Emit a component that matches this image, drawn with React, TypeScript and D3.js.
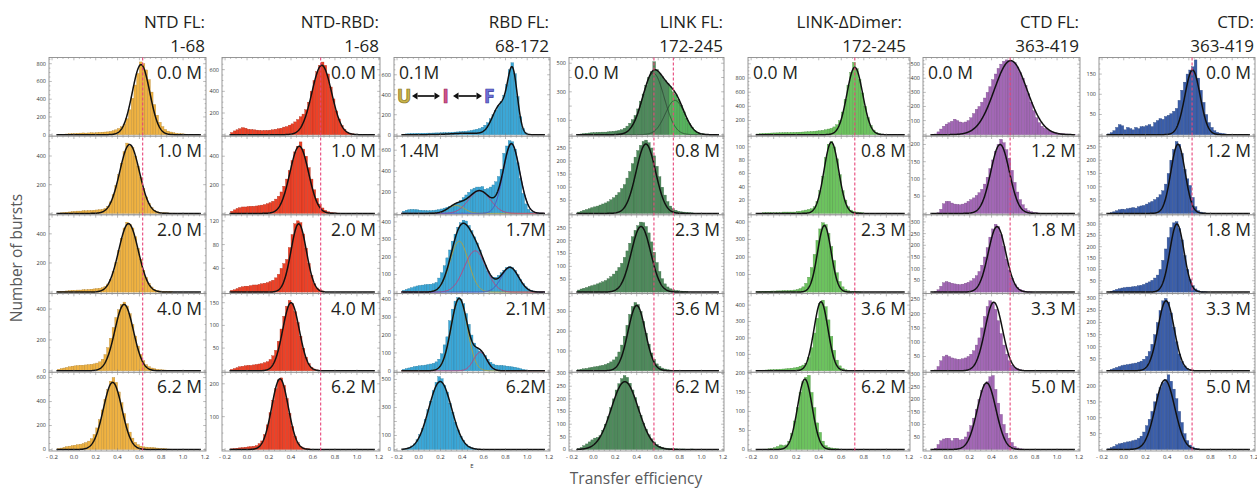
import React from 'react';
import * as d3 from 'd3';

// Histogram binning in transfer efficiency E
const BIN_START = -0.15;
const BIN_WIDTH = 0.025;

const panelTitles = ['NTD FL:', 'NTD-RBD:', 'RBD FL:', 'LINK FL:', 'LINK-\u0394Dimer:', 'CTD FL:', 'CTD:'];
const panelResidues = ['1-68', '1-68', '68-172', '172-245', '172-245', '363-419', '363-419'];
const barColors = ['#efb242', '#ec4127', '#3ba7d7', '#4f8a5c', '#6cc35e', '#a267b5', '#3b5ea9'];
const brightBarColor = '#55b35c';
const referenceE = [[0.63], [0.67], [], [0.56, 0.74], [0.72], [0.57], [0.63]];

const denaturantLabels = [
  ['0.0 M', '1.0 M', '2.0 M', '4.0 M', '6.2 M'],
  ['0.0 M', '1.0 M', '2.0 M', '4.0 M', '6.2 M'],
  ['0.1M', '1.4M', '1.7M', '2.1M', '6.2M'],
  ['0.0 M', '0.8 M', '2.3 M', '3.6 M', '6.2 M'],
  ['0.0 M', '0.8 M', '2.3 M', '3.6 M', '6.2 M'],
  ['0.0 M', '1.2 M', '1.8 M', '3.3 M', '5.0 M'],
  ['0.0 M', '1.2 M', '1.8 M', '3.3 M', '5.0 M'],
];
const labelOnLeft = [
  [0, 0, 0, 0, 0],
  [0, 0, 0, 0, 0],
  [1, 1, 0, 0, 0],
  [1, 0, 0, 0, 0],
  [1, 0, 0, 0, 0],
  [1, 0, 0, 0, 0],
  [0, 0, 0, 0, 0],
];

const yMaxes = [
  [870, 538, 530, 500, 644],
  [712, 540, 130, 170, 235],
  [773, 733, 440, 432, 551],
  [540, 295, 300, 390, 305],
  [1089, 116, 440, 470, 203],
  [547, 224, 330, 270, 308],
  [191, 290, 340, 320, 243],
];
const yTickValues = [
  [[0, 200, 400, 600, 800], [200, 400], [200, 400], [0, 200, 400], [0, 200, 400, 600]],
  [[200, 400, 600], [200, 400], [40, 80, 120], [50, 100, 150], [100, 200]],
  [[0, 200, 400, 600], [200, 400, 600], [0, 100, 200, 300, 400], [0, 100, 200, 300, 400], [0, 100, 300, 500]],
  [[100, 300, 500], [50, 100, 150, 200, 250], [50, 100, 150, 200, 250], [100, 200, 300], [0, 50, 100, 150, 200, 250, 300]],
  [[200, 400, 600, 800], [20, 40, 60, 80, 100], [100, 200, 300, 400], [100, 200, 300, 400], [0, 50, 100, 150, 200]],
  [[100, 200, 300, 400, 500], [50, 100, 150, 200], [50, 100, 150, 200, 250, 300], [50, 100, 150, 200, 250], [50, 100, 150, 200, 250, 300]],
  [[50, 100, 150], [50, 100, 150, 200, 250], [50, 100, 150, 200, 250, 300], [50, 100, 150, 200, 250, 300], [50, 100, 150, 200]],
];
const xTickValues = [-0.2, 0, 0.2, 0.4, 0.6, 0.8, 1.0, 1.2];

// Burst counts per bin, first bin starts at E = -0.15
const ntdFlCounts = [
  [3, 5, 6, 8, 10, 12, 14, 16, 18, 20, 18, 20, 22, 20, 24, 26, 28, 30, 32, 38, 45, 55, 70, 90, 120, 180, 280, 410, 560, 690, 820, 800, 730, 620, 480, 340, 220, 140, 90, 60, 40, 30, 22, 16, 12, 10, 8, 6, 5, 4, 3, 2],
  [2, 4, 6, 8, 10, 12, 14, 16, 16, 18, 18, 20, 20, 22, 24, 26, 28, 35, 50, 80, 130, 195, 270, 350, 430, 490, 470, 460, 400, 330, 250, 175, 115, 70, 40, 22, 12, 8, 5, 4, 3, 2, 2, 1],
  [3, 5, 6, 8, 10, 12, 12, 14, 14, 16, 16, 18, 20, 22, 24, 26, 30, 38, 55, 85, 140, 205, 285, 370, 440, 480, 465, 440, 380, 300, 225, 150, 100, 60, 35, 20, 12, 8, 5, 4, 3, 2],
  [10, 14, 18, 22, 26, 30, 32, 34, 36, 36, 38, 40, 42, 45, 50, 58, 75, 105, 150, 210, 280, 345, 395, 430, 445, 420, 370, 300, 225, 160, 105, 65, 40, 27, 18, 14, 10, 8, 6, 5, 4, 3, 2],
  [8, 12, 18, 24, 28, 32, 36, 40, 44, 50, 58, 70, 90, 125, 180, 250, 330, 420, 500, 570, 600, 560, 480, 390, 300, 215, 145, 95, 60, 40, 28, 22, 20, 18, 16, 14, 12, 10, 8, 6, 4, 3, 2],
];
const ntdRbdCounts = [
  [20, 35, 45, 55, 65, 60, 50, 48, 45, 42, 40, 38, 40, 40, 42, 45, 50, 55, 60, 70, 75, 88, 100, 118, 140, 165, 190, 230, 300, 400, 500, 580, 640, 670, 640, 560, 440, 330, 220, 145, 85, 48, 25, 14, 8, 5, 3, 2],
  [15, 25, 35, 40, 45, 45, 48, 50, 50, 52, 55, 58, 62, 68, 75, 85, 100, 120, 150, 190, 240, 300, 370, 430, 470, 500, 450, 400, 320, 240, 165, 105, 65, 38, 22, 12, 7, 4, 3, 2],
  [3, 4, 6, 8, 9, 10, 10, 11, 12, 12, 13, 14, 15, 16, 18, 20, 24, 30, 40, 48, 55, 75, 97, 115, 120, 117, 98, 74, 48, 28, 14, 7, 4, 2],
  [3, 5, 7, 9, 10, 11, 12, 12, 13, 14, 15, 16, 18, 20, 25, 33, 45, 65, 92, 120, 142, 155, 148, 130, 106, 76, 50, 30, 16, 8, 4, 2],
  [2, 3, 4, 5, 6, 7, 8, 9, 10, 12, 18, 26, 45, 75, 112, 150, 185, 212, 218, 195, 155, 110, 70, 40, 21, 10, 5, 3, 2],
];
const rbdFlCounts = [
  [5, 8, 10, 12, 12, 14, 14, 15, 15, 16, 16, 17, 18, 18, 19, 20, 20, 22, 24, 26, 28, 30, 32, 34, 38, 42, 48, 55, 62, 75, 95, 120, 160, 200, 245, 290, 335, 395, 500, 650, 720, 610, 380, 180, 60, 18, 5, 2],
  [20, 30, 35, 38, 36, 34, 30, 28, 26, 25, 26, 28, 32, 36, 42, 50, 58, 68, 78, 90, 105, 125, 150, 175, 200, 225, 240, 250, 250, 255, 230, 235, 250, 270, 300, 350, 420, 570, 640, 690, 680, 610, 480, 330, 190, 90, 38, 14, 6, 3],
  [10, 15, 20, 25, 30, 35, 38, 40, 42, 44, 45, 48, 55, 80, 110, 150, 195, 240, 290, 330, 370, 395, 410, 405, 380, 350, 315, 280, 240, 195, 155, 120, 95, 85, 85, 95, 110, 125, 140, 145, 140, 125, 100, 72, 48, 30, 18, 10, 6, 3],
  [8, 12, 16, 20, 24, 26, 28, 30, 32, 35, 38, 42, 50, 65, 95, 145, 190, 280, 345, 390, 410, 400, 375, 320, 260, 200, 155, 125, 110, 100, 85, 65, 48, 38, 32, 30, 30, 28, 26, 24, 22, 20, 16, 12, 8, 5, 3, 2],
  [3, 6, 14, 25, 40, 70, 105, 150, 215, 285, 345, 420, 480, 520, 505, 455, 410, 330, 265, 195, 140, 95, 62, 38, 22, 12, 6, 3],
];
const linkFlCounts = [
  [3, 5, 8, 10, 12, 14, 15, 16, 17, 18, 18, 20, 22, 24, 26, 30, 35, 45, 60, 80, 105, 135, 180, 235, 285, 345, 400, 440, 510, 455, 430, 405, 380, 360, 335, 300, 280, 245, 205, 160, 115, 80, 52, 30, 18, 10, 6, 4, 3, 2],
  [5, 8, 12, 15, 18, 22, 25, 28, 32, 36, 40, 45, 52, 60, 70, 80, 95, 110, 135, 160, 190, 215, 240, 260, 275, 280, 270, 250, 220, 180, 140, 100, 70, 45, 28, 18, 12, 8, 6, 5, 4, 3, 2],
  [8, 12, 15, 18, 22, 25, 28, 32, 36, 40, 45, 52, 60, 70, 82, 96, 112, 135, 160, 190, 215, 240, 258, 272, 270, 255, 230, 195, 155, 115, 80, 52, 32, 20, 13, 9, 6, 5, 4, 3, 2],
  [5, 8, 10, 12, 15, 18, 20, 22, 25, 28, 32, 38, 45, 55, 70, 95, 130, 175, 230, 285, 325, 345, 335, 300, 250, 190, 135, 90, 58, 35, 22, 14, 9, 6, 4, 3, 2],
  [3, 8, 15, 22, 30, 38, 45, 48, 55, 75, 100, 130, 165, 200, 235, 260, 280, 292, 285, 262, 235, 205, 170, 135, 105, 80, 58, 42, 30, 20, 13, 9, 6, 5, 4, 3, 3, 2, 2, 2, 1, 1, 2, 1],
];
const linkDimerCounts = [
  [10, 15, 18, 20, 22, 24, 25, 26, 27, 28, 30, 30, 32, 33, 35, 36, 38, 40, 42, 45, 48, 52, 56, 62, 70, 80, 90, 110, 140, 200, 320, 500, 700, 880, 1020, 930, 780, 590, 400, 240, 130, 65, 30, 14, 8, 5, 4, 3, 2, 2, 1],
  [0, 0, 1, 1, 1, 1, 1, 1, 1, 2, 2, 2, 2, 2, 3, 3, 4, 5, 6, 7, 10, 18, 34, 56, 84, 104, 108, 100, 82, 58, 34, 20, 10, 5, 3, 2, 1, 1],
  [2, 3, 4, 5, 5, 6, 6, 7, 7, 8, 8, 9, 10, 12, 15, 20, 30, 50, 85, 140, 215, 295, 360, 395, 385, 335, 260, 180, 110, 60, 30, 15, 8, 4, 3, 2, 1],
  [2, 3, 4, 5, 6, 7, 8, 9, 10, 11, 12, 14, 16, 18, 22, 28, 35, 45, 80, 140, 230, 320, 410, 430, 390, 310, 210, 125, 65, 30, 14, 6, 3, 2],
  [0, 0, 1, 1, 2, 3, 5, 8, 12, 10, 12, 22, 42, 75, 110, 150, 178, 190, 195, 150, 110, 70, 45, 22, 10, 6, 4, 3, 2, 1],
];
const ctdFlCounts = [
  [0, 5, 20, 40, 60, 75, 85, 95, 110, 100, 90, 85, 90, 100, 120, 150, 180, 200, 230, 260, 300, 340, 390, 430, 470, 500, 520, 530, 525, 520, 510, 480, 440, 400, 350, 290, 230, 170, 120, 85, 60, 45, 35, 25, 18, 14, 10, 8, 6, 5, 4, 3, 2],
  [0, 0, 2, 12, 28, 35, 35, 30, 27, 26, 25, 27, 30, 35, 40, 45, 52, 60, 70, 85, 105, 130, 155, 180, 200, 215, 205, 185, 160, 125, 90, 62, 40, 25, 14, 8, 5, 3, 2, 1],
  [0, 2, 10, 25, 40, 45, 42, 38, 35, 33, 32, 34, 38, 42, 48, 58, 70, 88, 115, 150, 190, 235, 270, 290, 280, 245, 195, 140, 95, 60, 35, 20, 12, 7, 4, 2, 1],
  [0, 3, 15, 35, 50, 55, 50, 45, 42, 40, 40, 42, 45, 50, 58, 70, 90, 115, 150, 190, 225, 245, 240, 215, 175, 130, 90, 58, 35, 20, 12, 7, 4, 2, 1],
  [0, 5, 20, 35, 42, 45, 45, 35, 45, 45, 38, 40, 50, 70, 95, 125, 160, 200, 235, 260, 270, 290, 295, 240, 185, 140, 100, 65, 45, 28, 12, 6, 3, 2, 1],
];
const ctdCounts = [
  [2, 5, 10, 18, 25, 22, 12, 18, 15, 12, 18, 15, 20, 20, 22, 25, 20, 30, 35, 40, 38, 45, 48, 52, 58, 65, 85, 110, 130, 150, 160, 168, 185, 140, 110, 80, 50, 30, 18, 10, 6, 4, 3, 2, 1],
  [0, 3, 6, 10, 14, 16, 15, 18, 20, 22, 20, 25, 28, 30, 35, 40, 45, 52, 60, 70, 85, 110, 150, 200, 240, 270, 260, 225, 165, 130, 105, 60, 25, 10, 5, 2, 1],
  [0, 4, 8, 12, 15, 18, 20, 22, 22, 24, 25, 28, 30, 34, 40, 45, 52, 62, 75, 100, 140, 190, 240, 285, 305, 310, 280, 230, 160, 100, 55, 28, 14, 7, 3, 2, 1],
  [2, 6, 10, 14, 18, 22, 24, 26, 28, 30, 32, 36, 40, 48, 60, 80, 110, 150, 200, 250, 290, 300, 285, 240, 180, 120, 70, 38, 20, 10, 5, 3, 2, 1],
  [2, 6, 10, 15, 18, 20, 22, 24, 25, 28, 30, 35, 42, 55, 75, 95, 120, 150, 175, 195, 210, 220, 235, 215, 190, 160, 120, 85, 50, 28, 14, 8, 4, 2, 1],
];

// Gaussian fit components [amplitude, mean E, sigma]
const ntdFlFits = [
  [[790, 0.615, 0.08]],
  [[480, 0.51, 0.09]],
  [[470, 0.5, 0.09]],
  [[430, 0.46, 0.085]],
  [[560, 0.355, 0.085]],
];
const ntdRbdFits = [
  [[640, 0.68, 0.09]],
  [[470, 0.475, 0.085]],
  [[115, 0.47, 0.07]],
  [[150, 0.4, 0.075]],
  [[215, 0.3, 0.075]],
];
// RBD FL: unfolded (U), intermediate (I), folded (F)
const rbdFlFits = [
  [[15, 0.45, 0.15], [290, 0.75, 0.07], [600, 0.865, 0.045]],
  [[75, 0.345, 0.075], [215, 0.56, 0.1], [660, 0.855, 0.075]],
  [[290, 0.373, 0.085], [235, 0.52, 0.1], [140, 0.842, 0.08]],
  [[405, 0.373, 0.075], [104, 0.566, 0.06]],
  [[485, 0.198, 0.105]],
];
const linkFlFits = [
  [[430, 0.555, 0.1], [240, 0.755, 0.09]],
  [[265, 0.485, 0.09]],
  [[255, 0.44, 0.09]],
  [[330, 0.4, 0.08]],
  [[268, 0.29, 0.125]],
];
const linkDimerFits = [
  [[950, 0.72, 0.07]],
  [[107, 0.512, 0.065]],
  [[380, 0.45, 0.06]],
  [[420, 0.42, 0.062]],
  [[185, 0.277, 0.065]],
];
const ctdFlFits = [
  [[525, 0.575, 0.15]],
  [[200, 0.478, 0.085]],
  [[280, 0.45, 0.08]],
  [[240, 0.42, 0.08]],
  [[266, 0.355, 0.085]],
];
const ctdFits = [
  [[160, 0.634, 0.07]],
  [[260, 0.5, 0.065]],
  [[300, 0.49, 0.065]],
  [[290, 0.39, 0.075]],
  [[219, 0.38, 0.09]],
];

const uifColors = ['#b6a23b', '#c3407d', '#4f55c3'];
const linkComponentColor = '#2b4632';

const histogramCounts = [ntdFlCounts, ntdRbdCounts, rbdFlCounts, linkFlCounts, linkDimerCounts, ctdFlCounts, ctdCounts];
const fitComponents = [ntdFlFits, ntdRbdFits, rbdFlFits, linkFlFits, linkDimerFits, ctdFlFits, ctdFits];

// Layout
const COL_LEFT = [49, 222, 394, 569, 748, 923, 1099];
const COL_RIGHT = [206, 380, 550, 724, 910, 1080, 1255];
const TOP = 57.5;
const ROW_H = 78.7;
const X_DOMAIN: [number, number] = [-0.228, 1.21];
const FONT = "'Open Sans', 'Noto Sans', sans-serif";

function gaussian([a, m, s]: number[], e: number) {
  return a * Math.exp(-((e - m) * (e - m)) / (2 * s * s));
}
function fitTotal(fits: number[][], e: number) {
  return fits.reduce((acc, f) => acc + gaussian(f, e), 0);
}

function componentColorsFor(col: number, row: number): string[] | null {
  if (col === 2 && row >= 1 && row <= 3) return uifColors;
  if (col === 3 && row === 0) return [linkComponentColor, linkComponentColor];
  return null;
}

function Panel({ col, row }: { col: number; row: number }) {
  const left = COL_LEFT[col];
  const right = COL_RIGHT[col];
  const top = TOP + row * ROW_H;
  const bottom = top + ROW_H;
  const x = d3.scaleLinear().domain(X_DOMAIN).range([left, right]);
  const y = d3.scaleLinear().domain([0, yMaxes[col][row]]).range([bottom - 1.5, top]);
  const counts = histogramCounts[col][row];
  const fits = fitComponents[col][row];
  const clipId = `clip-${col}-${row}`;
  const fill = barColors[col];
  const edge = d3.color(fill)!.darker(0.8).formatHex();
  const sample = d3.range(-0.16, 1.166, 0.003);
  const totalLine = d3
    .line<number>()
    .x((e) => x(e))
    .y((e) => y(fitTotal(fits, e)));
  const compColors = componentColorsFor(col, row);
  const ticks = yTickValues[col][row];
  const tickStep = ticks.length > 1 ? ticks[1] - ticks[0] : ticks[0];
  const minorStep = tickStep / 4;
  const minorY = d3.range(0, yMaxes[col][row], minorStep);
  const minorX = d3.range(-0.2, 1.2001, 0.05);
  const onLeft = labelOnLeft[col][row] === 1;

  return (
    <g>
      <defs>
        <clipPath id={clipId}>
          <rect x={left} y={top} width={right - left} height={ROW_H} />
        </clipPath>
      </defs>
      <rect x={left} y={top} width={right - left} height={ROW_H} fill="#fff" />
      <g clipPath={`url(#${clipId})`}>
        {counts.map((c, i) => {
          if (c <= 0) return null;
          const e0 = BIN_START + i * BIN_WIDTH;
          const x0 = x(e0);
          const x1 = x(e0 + BIN_WIDTH);
          const bright = col === 3 && row === 0 && e0 >= 0.7;
          return (
            <rect
              key={i}
              x={x0}
              y={y(c)}
              width={x1 - x0}
              height={y(0) - y(c)}
              fill={bright ? brightBarColor : fill}
              stroke={bright ? d3.color(brightBarColor)!.darker(0.8).formatHex() : edge}
              strokeWidth={0.35}
            />
          );
        })}
        {compColors &&
          fits.map((f, k) => (
            <path
              key={k}
              d={d3
                .line<number>()
                .x((e) => x(e))
                .y((e) => y(gaussian(f, e)))(sample) || ''}
              fill="none"
              stroke={compColors[k]}
              strokeWidth={col === 3 ? 0.8 : 1}
            />
          ))}
        <path d={totalLine(sample) || ''} fill="none" stroke="#111" strokeWidth={1.5} />
      </g>
      {/* frame ticks */}
      {minorX.map((v, i) => {
        const major = Math.abs(Math.round(v * 5) - v * 5) < 1e-6;
        const len = major ? 2.8 : 1.4;
        return (
          <g key={`xt${i}`} stroke="#777" strokeWidth={0.5}>
            <line x1={x(v)} x2={x(v)} y1={bottom} y2={bottom - len} />
            <line x1={x(v)} x2={x(v)} y1={top} y2={top + len} />
          </g>
        );
      })}
      {minorY.map((v, i) => {
        const major = ticks.includes(v) || Math.abs(v % tickStep) < 1e-6;
        const len = major ? 2.8 : 1.4;
        return (
          <g key={`yt${i}`} stroke="#777" strokeWidth={0.5}>
            <line x1={left} x2={left + len} y1={y(v)} y2={y(v)} />
            <line x1={right} x2={right - len} y1={y(v)} y2={y(v)} />
          </g>
        );
      })}
      <rect x={left} y={top} width={right - left} height={ROW_H} fill="none" stroke="#8c8c8c" strokeWidth={0.9} />
      {ticks.map((v) => (
        <text key={`yl${v}`} x={left - 3} y={y(v)} dy="0.35em" fontSize={5.5} textAnchor="end" fill="#333" fontFamily={FONT}>
          {v}
        </text>
      ))}
      <text
        x={onLeft ? left + 5 : right - 4}
        y={top + 21}
        fontSize={17.5}
        textAnchor={onLeft ? 'start' : 'end'}
        fill="#231f20"
        fontFamily={FONT}
      >
        {denaturantLabels[col][row]}
      </text>
      {row === 4 &&
        xTickValues.map((v) => (
          <text key={`xl${v}`} x={x(v)} y={bottom + 8} fontSize={6} textAnchor="middle" fill="#333" fontFamily={FONT}>
            {v < 0 ? `- ${d3.format('.1f')(-v)}` : d3.format('.1f')(v)}
          </text>
        ))}
    </g>
  );
}

function DoubleArrow({ x1, x2, y }: { x1: number; x2: number; y: number }) {
  const h = 5.5;
  const w = 3.4;
  return (
    <g fill="#111" stroke="#111">
      <line x1={x1 + h} x2={x2 - h} y1={y} y2={y} strokeWidth={1.7} />
      <path d={`M${x1},${y} L${x1 + h},${y - w} L${x1 + h},${y + w} Z`} stroke="none" />
      <path d={`M${x2},${y} L${x2 - h},${y - w} L${x2 - h},${y + w} Z`} stroke="none" />
    </g>
  );
}

export default function App() {
  const cols = d3.range(7);
  const rows = d3.range(5);
  const gridBottom = TOP + 5 * ROW_H;
  const rbdLeft = COL_LEFT[2];
  return (
    <svg
      width={1257}
      height={489}
      style={{ position: 'absolute', left: 0, top: 0, background: '#fff' }}
      fontFamily={FONT}
    >
      {cols.map((c) => (
        <g key={`title${c}`} fontSize={17} fill="#231f20" textAnchor="end">
          <text x={COL_RIGHT[c] - (c === 4 ? 8 : 1)} y={28}>
            {panelTitles[c]}
          </text>
          <text x={COL_RIGHT[c] - (c === 4 ? 4 : 1)} y={52}>
            {panelResidues[c]}
          </text>
        </g>
      ))}
      {cols.map((c) => rows.map((r) => <Panel key={`p${c}-${r}`} col={c} row={r} />))}
      {cols.map((c) => {
        const x = d3.scaleLinear().domain(X_DOMAIN).range([COL_LEFT[c], COL_RIGHT[c]]);
        return referenceE[c].map((e, k) => (
          <line
            key={`ref${c}-${k}`}
            x1={x(e)}
            x2={x(e)}
            y1={TOP}
            y2={gridBottom}
            stroke="#e8457a"
            strokeWidth={1.1}
            strokeDasharray="3 2"
          />
        ));
      })}
      {/* U <-> I <-> F scheme */}
      <g fontSize={19} fontWeight="bold" strokeWidth={0.7}>
        <text x={rbdLeft + 3} y={103} fill="#c9b34a" stroke="#857420">
          U
        </text>
        <DoubleArrow x1={rbdLeft + 18} x2={rbdLeft + 46} y={96} />
        <text x={rbdLeft + 48.5} y={103} fill="#d4508b" stroke="#97285d">
          I
        </text>
        <DoubleArrow x1={rbdLeft + 59} x2={rbdLeft + 88} y={96} />
        <text x={rbdLeft + 90} y={103} fill="#6f72d9" stroke="#3a3c9e">
          F
        </text>
      </g>
      <text x={472} y={468} fontSize={6} textAnchor="middle" fill="#333">
        E
      </text>
      <text
        transform="translate(22,258) rotate(-90)"
        fontSize={15.5}
        textAnchor="middle"
        fill="#58595b"
      >
        Number of bursts
      </text>
      <text x={636} y={484} fontSize={15.5} textAnchor="middle" fill="#58595b">
        Transfer efficiency
      </text>
    </svg>
  );
}
